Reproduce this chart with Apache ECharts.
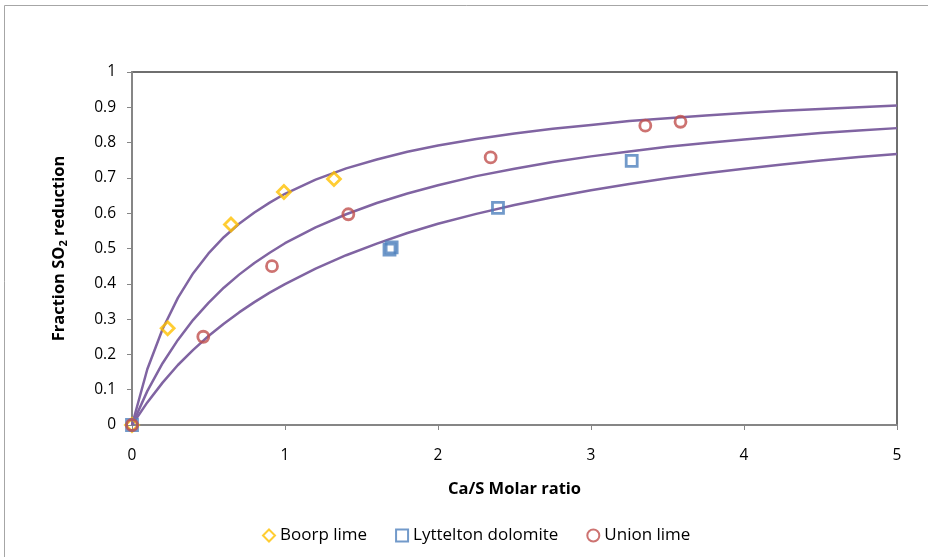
<!DOCTYPE html>
<html>
<head>
<meta charset="utf-8">
<title>Fraction SO2 reduction vs Ca/S molar ratio</title>
<script src="https://cdn.jsdelivr.net/npm/echarts@6/dist/echarts.min.js"></script>
<style>
  html, body { margin: 0; padding: 0; background: #ffffff; }
  #chart { width: 928px; height: 557px; }
</style>
</head>
<body>
<div id="chart"></div>
<script>
// Model curves: Ca/S molar ratio against fraction of SO2 removed
const curveX = [0, 0.1, 0.2, 0.3, 0.4, 0.5, 0.6, 0.7, 0.8, 0.9, 1.0, 1.2, 1.4, 1.6, 1.8, 2.0,
                2.25, 2.5, 2.75, 3.0, 3.25, 3.5, 3.75, 4.0, 4.25, 4.5, 4.75, 5.0];
const curveHigh = [0, 0.158, 0.272, 0.36, 0.43, 0.486, 0.532, 0.57, 0.602, 0.63, 0.655, 0.695, 0.727,
                   0.752, 0.774, 0.792, 0.81, 0.826, 0.839, 0.85, 0.861, 0.869, 0.877, 0.884, 0.89,
                   0.895, 0.9, 0.905];
const curveMid = [0, 0.096, 0.175, 0.241, 0.298, 0.346, 0.389, 0.426, 0.459, 0.488, 0.515, 0.56, 0.597,
                  0.629, 0.656, 0.679, 0.705, 0.726, 0.745, 0.761, 0.775, 0.788, 0.799, 0.809, 0.818,
                  0.827, 0.834, 0.841];
const curveLow = [0, 0.064, 0.12, 0.17, 0.213, 0.252, 0.287, 0.319, 0.348, 0.375, 0.399, 0.443, 0.481,
                  0.514, 0.544, 0.57, 0.598, 0.623, 0.645, 0.665, 0.683, 0.699, 0.713, 0.726, 0.738,
                  0.749, 0.759, 0.768];

// Measured points: [Ca/S molar ratio, fraction SO2 reduction]
const boorpLime = [[0, 0], [0.233, 0.274], [0.647, 0.568], [0.993, 0.66], [1.32, 0.697]];
const lytteltonDolomite = [[0, 0], [1.683, 0.497], [1.697, 0.503], [2.392, 0.615], [3.266, 0.748]];
const unionLime = [[0, 0], [0.466, 0.25], [0.915, 0.45], [1.414, 0.597], [2.344, 0.758],
                   [3.355, 0.848], [3.585, 0.859]];

const xTicks = [0, 1, 2, 3, 4, 5];
const yTicks = [0, 0.1, 0.2, 0.3, 0.4, 0.5, 0.6, 0.7, 0.8, 0.9, 1];

const FONT = '"Open Sans", Lato, sans-serif';

function pairs(xs, ys) {
  return xs.map((x, i) => [x, ys[i]]);
}

function curveSeries(name, ys) {
  return {
    name: name,
    type: 'line',
    data: pairs(curveX, ys),
    showSymbol: false,
    symbol: 'none',
    smooth: false,
    silent: true,
    z: 2,
    lineStyle: { color: '#8064A2', width: 2.5 },
    itemStyle: { color: '#8064A2' }
  };
}

function pointSeries(name, data, symbol, size, color) {
  return {
    name: name,
    type: 'scatter',
    data: data,
    symbol: symbol,
    symbolSize: size,
    z: 3,
    itemStyle: { color: 'rgba(255,255,255,0)', borderColor: color, borderWidth: 2.8 }
  };
}

const chart = echarts.init(document.getElementById('chart'), null, { renderer: 'canvas' });

chart.setOption({
  animation: false,
  backgroundColor: '#ffffff',
  textStyle: { fontFamily: FONT, color: '#000000' },
  graphic: [{
    type: 'rect',
    shape: { x: 4.5, y: 5.5, width: 1000, height: 1000 },
    style: { fill: 'none', stroke: '#A6A6A6', lineWidth: 1 },
    silent: true,
    z: -10
  }],
  grid: {
    left: 132, right: 31, top: 72, bottom: 132,
    show: true,
    borderColor: '#404040',
    borderWidth: 1.5,
    backgroundColor: 'transparent'
  },
  legend: {
    data: ['Boorp lime', 'Lyttelton dolomite', 'Union lime'],
    left: 257,
    top: 522,
    itemWidth: 12,
    itemHeight: 12,
    itemGap: 28,
    textStyle: { fontFamily: FONT, fontSize: 17, color: '#000000' }
  },
  xAxis: {
    type: 'value',
    min: xTicks[0],
    max: xTicks[xTicks.length - 1],
    interval: 1,
    name: 'Ca/S Molar ratio',
    nameLocation: 'middle',
    nameGap: 56,
    nameTextStyle: { fontFamily: FONT, fontSize: 16.5, fontWeight: 'bold', color: '#000000' },
    axisLine: { show: true, lineStyle: { color: '#868686', width: 2 } },
    axisTick: { show: true, inside: false, length: 5, lineStyle: { color: '#868686', width: 1 } },
    axisLabel: { margin: 23, fontSize: 15.5, color: '#000000', fontFamily: FONT },
    splitLine: { show: false }
  },
  yAxis: {
    type: 'value',
    min: yTicks[0],
    max: yTicks[yTicks.length - 1],
    interval: 0.1,
    name: '{a|Fraction SO}{s|2}{a| reduction}',
    nameLocation: 'middle',
    nameGap: 63,
    nameRotate: 90,
    nameTextStyle: {
      rich: {
        a: { fontFamily: FONT, fontSize: 16.5, fontWeight: 'bold', color: '#000000', lineHeight: 20 },
        s: { fontFamily: FONT, fontSize: 11, fontWeight: 'bold', color: '#000000',
             verticalAlign: 'bottom', lineHeight: 20, padding: [8, 0, 0, 0] }
      }
    },
    axisLine: { show: true, lineStyle: { color: '#868686', width: 2 } },
    axisTick: { show: true, inside: false, length: 5, lineStyle: { color: '#868686', width: 1 } },
    axisLabel: {
      margin: 16, fontSize: 15.5, color: '#000000', fontFamily: FONT,
      formatter: v => String(Math.round(v * 10) / 10)
    },
    splitLine: { show: false }
  },
  series: [
    curveSeries('curve high', curveHigh),
    curveSeries('curve mid', curveMid),
    curveSeries('curve low', curveLow),
    pointSeries('Boorp lime', boorpLime, 'diamond', 13, '#FFC000'),
    pointSeries('Lyttelton dolomite', lytteltonDolomite, 'rect', 11, '#4F81BD'),
    pointSeries('Union lime', unionLime, 'circle', 11, '#C0504D')
  ]
});
</script>
</body>
</html>
